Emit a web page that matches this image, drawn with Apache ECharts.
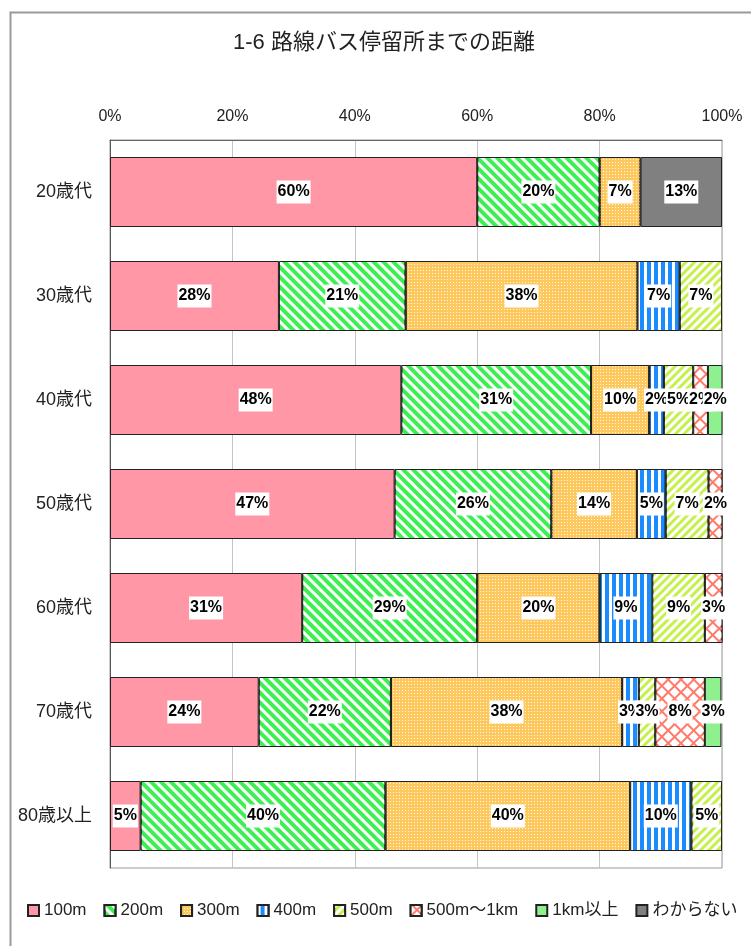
<!DOCTYPE html>
<html>
<head>
<meta charset="utf-8">
<script src="https://cdn.jsdelivr.net/npm/echarts@6/dist/echarts.min.js"></script>
<style>
  html, body { margin: 0; padding: 0; background: #fff; }
  #chart { width: 751px; height: 946px; }
</style>
</head>
<body>
<div id="chart"></div>
<script>
  // 年代別 路線バス停留所までの距離 (%)
  const categories = ['20歳代', '30歳代', '40歳代', '50歳代', '60歳代', '70歳代', '80歳以上'];
  const seriesNames = ['100m', '200m', '300m', '400m', '500m', '500m～1km', '1km以上', 'わからない'];

  const v100 = [60.0, 27.6, 47.6, 46.5, 31.4, 24.3, 5.0];
  const v200 = [20.0, 20.7, 31.0, 25.6, 28.6, 21.6, 40.0];
  const v300 = [6.7, 37.9, 9.5, 14.0, 20.0, 37.8, 40.0];
  const v400 = [0, 6.9, 2.4, 4.7, 8.6, 2.7, 10.0];
  const v500 = [0, 6.9, 4.8, 7.0, 8.6, 2.7, 5.0];
  const v500to1k = [0, 0, 2.4, 2.3, 2.9, 8.1, 0];
  const v1kOver = [0, 0, 2.4, 0, 0, 2.7, 0];
  const vUnknown = [13.3, 0, 0, 0, 0, 0, 0];

  const xTicks = [0, 20, 40, 60, 80, 100];

  const fontJP = '"Liberation Sans", "Noto Sans CJK JP", sans-serif';

  const styles = [
    { color: '#ff97a6' },
    { color: '#3cf052', decal: { color: '#fff', symbol: 'rect', dashArrayX: [1, 0], dashArrayY: [3, 4], rotation: Math.PI / 4 } },
    { color: '#fdc95e', decal: { color: 'rgba(255,255,255,0.85)', symbol: 'rect', dashArrayX: [1, 2], dashArrayY: [1, 2] } },
    { color: '#1a8cff', decal: { color: '#fff', symbol: 'rect', dashArrayX: [3, 4], dashArrayY: [1, 0] } },
    { color: '#c6f04c', decal: { color: '#fff', symbol: 'rect', dashArrayX: [1, 0], dashArrayY: [3, 3], rotation: -Math.PI / 4 } },
    { color: '#ff7a6a', decal: { color: '#fff', symbol: 'rect', dashArrayX: [7, 1.5], dashArrayY: [7, 1.5], rotation: Math.PI / 4 } },
    { color: '#8ef08e' },
    { color: '#808080' }
  ];
  const values = [v100, v200, v300, v400, v500, v500to1k, v1kOver, vUnknown];

  const chart = echarts.init(document.getElementById('chart'));

  const series = seriesNames.map((name, i) => ({
    name: name,
    type: 'bar',
    stack: 'total',
    barWidth: 70,
    data: values[i].map((v) => (v > 0 ? v : null)),
    itemStyle: Object.assign({ borderColor: '#222', borderWidth: 1 }, styles[i]),
    label: {
      show: true,
      position: 'inside',
      formatter: (p) => Math.round(p.value) + '%',
      color: '#000',
      fontSize: 16,
      fontWeight: 'bold',
      fontFamily: fontJP,
      backgroundColor: '#fff',
      padding: [4, 1, 3, 1]
    },
    emphasis: { disabled: true }
  }));

  const options = {
    animation: false,
    title: {
      text: '1-6 路線バス停留所までの距離',
      left: 233,
      top: 32,
      padding: 0,
      textStyle: { fontSize: 22, fontWeight: 'normal', color: '#222', fontFamily: fontJP }
    },
    graphic: [
      {
        type: 'rect',
        left: 8,
        top: 10,
        shape: { width: 800, height: 1000 },
        style: { fill: 'none', stroke: '#9a9a9a', lineWidth: 2 },
        silent: true
      }
    ],
    legend: {
      data: seriesNames,
      left: 27,
      top: 902,
      padding: 0,
      itemGap: 17,
      itemWidth: 11,
      itemHeight: 11,
      icon: 'rect',
      textStyle: { fontSize: 17, color: '#222', fontFamily: fontJP }
    },
    grid: {
      left: 110,
      right: 29,
      top: 140,
      bottom: 78,
      show: true,
      borderColor: '#999',
      borderWidth: 1
    },
    xAxis: {
      type: 'value',
      position: 'top',
      min: xTicks[0],
      max: xTicks[xTicks.length - 1],
      interval: 20,
      axisLine: { show: true, lineStyle: { color: '#666' } },
      axisTick: { show: false },
      axisLabel: { formatter: '{value}%', fontSize: 16, color: '#222', margin: 15, fontFamily: fontJP },
      splitLine: { show: true, lineStyle: { color: '#c4c4c4' } }
    },
    yAxis: {
      type: 'category',
      inverse: true,
      data: categories,
      axisLine: { show: true, lineStyle: { color: '#555' } },
      axisTick: { show: false },
      axisLabel: { fontSize: 18, color: '#222', margin: 18, fontFamily: fontJP }
    },
    series: series
  };

  chart.setOption(options);
</script>
</body>
</html>
